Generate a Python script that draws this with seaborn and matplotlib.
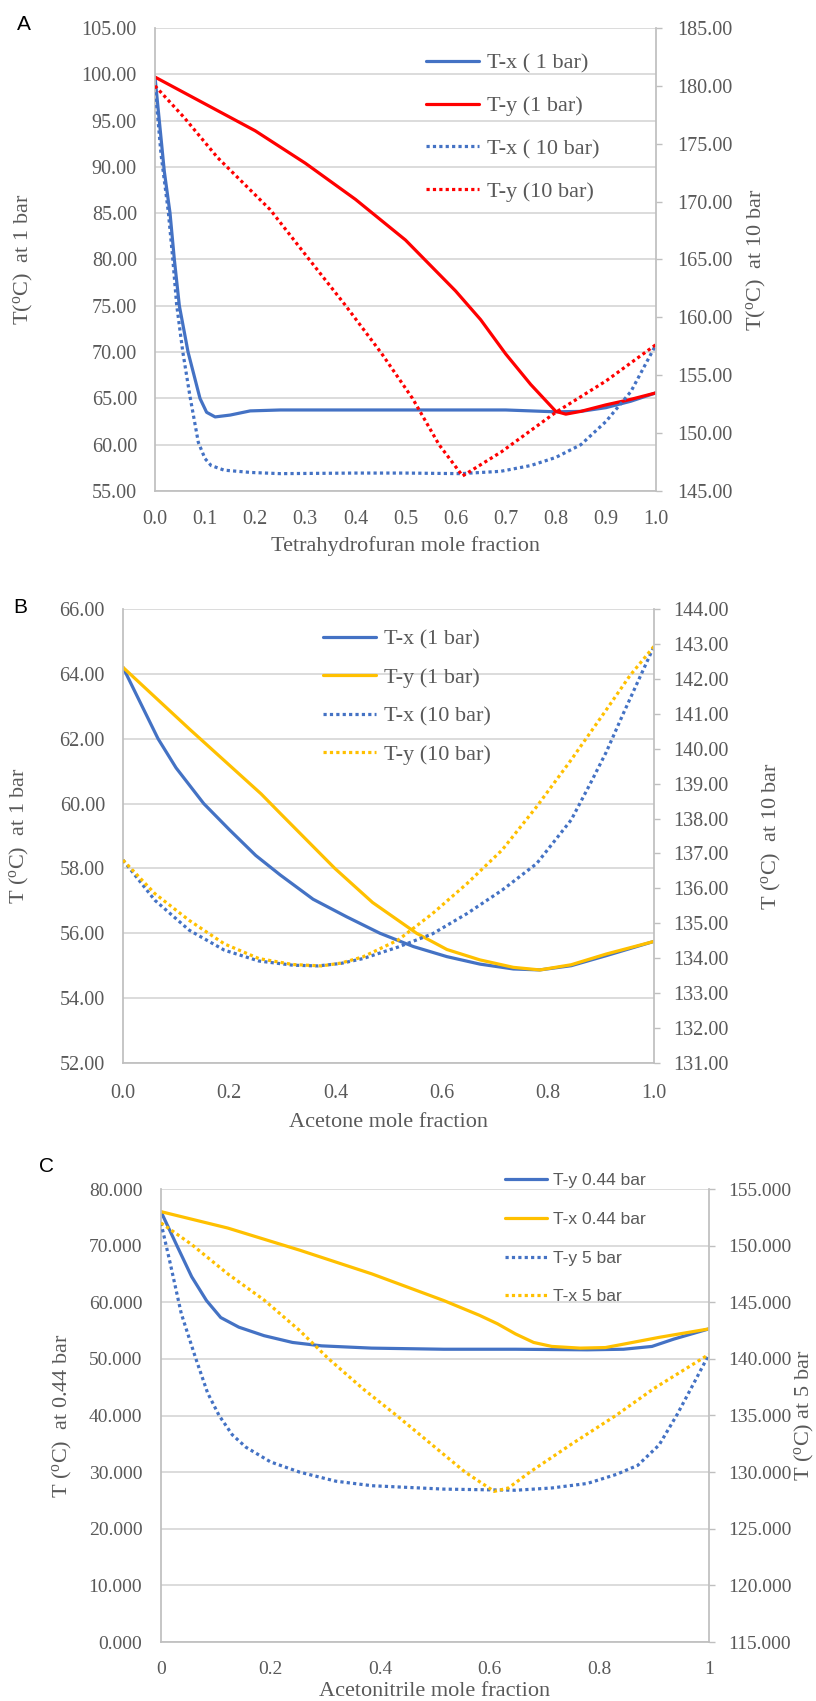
"""
Courbes d'equilibre T-x-y pour trois binaires (THF, acetone, acetonitrile).
"""

import numpy as np
import pandas as pd
import seaborn as sns
import matplotlib.pyplot as plt
from matplotlib.ticker import FormatStrFormatter, MultipleLocator

BLUE = "#4472C4"
RED = "#FF0000"
GOLD = "#FFC000"
GREY_TXT = "#595959"
GRID = "#D9D9D9"
DOT = (0, (1, 1))

# ---- A : tetrahydrofuran ----
a_tx1_x = [0.0, 0.0186, 0.03, 0.0386, 0.0486, 0.066, 0.0898, 0.103, 0.12, 0.15, 0.19, 0.25, 0.4, 0.55, 0.7, 0.75, 0.8, 0.85, 0.9, 0.95, 1.0]
a_tx1_y = [99.7, 89.5, 85.0, 80.0, 75.0, 70.0, 65.0, 63.5, 63.0, 63.2, 63.65, 63.75, 63.75, 63.75, 63.75, 63.65, 63.55, 63.6, 64.0, 64.7, 65.6]
a_ty1_x = [0.0, 0.1, 0.2, 0.3, 0.4, 0.5, 0.6, 0.65, 0.7, 0.75, 0.8, 0.82, 0.85, 0.9, 0.95, 1.0]
a_ty1_y = [99.7, 96.8, 93.9, 90.4, 86.5, 82.1, 76.6, 73.5, 69.8, 66.5, 63.6, 63.3, 63.6, 64.3, 64.9, 65.6]
a_tx10_x = [0.0, 0.012, 0.0266, 0.0352, 0.0432, 0.0552, 0.0699, 0.0865, 0.0998, 0.112, 0.138, 0.192, 0.25, 0.4, 0.5, 0.61, 0.69, 0.75, 0.8, 0.85, 0.9, 0.95, 1.0]
a_tx10_y = [180.0, 174.1, 169.1, 165.2, 161.1, 157.1, 153.15, 149.2, 147.8, 147.2, 146.8, 146.6, 146.5, 146.55, 146.55, 146.5, 146.7, 147.2, 147.9, 149.0, 151.0, 153.6, 157.65]
a_ty10_x = [0.0, 0.0585, 0.125, 0.23, 0.306, 0.379, 0.452, 0.514, 0.567, 0.614, 0.692, 0.8, 0.9, 1.0]
a_ty10_y = [180.0, 177.25, 173.8, 169.3, 165.1, 161.1, 156.9, 153.0, 149.0, 146.3, 148.4, 151.8, 154.5, 157.65]

# ---- B : acetone ----
b_tx1_x = [0.0, 0.027, 0.066, 0.1, 0.152, 0.2, 0.25, 0.296, 0.358, 0.421, 0.484, 0.547, 0.61, 0.672, 0.735, 0.785, 0.844, 0.91, 1.0]
b_tx1_y = [64.2, 63.3, 62.0, 61.1, 60.0, 59.2, 58.4, 57.8, 57.05, 56.51, 56.0, 55.59, 55.28, 55.05, 54.9, 54.87, 55.0, 55.31, 55.75]
b_ty1_x = [0.0, 0.125, 0.26, 0.296, 0.399, 0.47, 0.553, 0.61, 0.672, 0.735, 0.785, 0.844, 0.91, 1.0]
b_ty1_y = [64.2, 62.3, 60.3, 59.7, 58.0, 56.95, 56.0, 55.5, 55.18, 54.95, 54.87, 55.03, 55.36, 55.75]
b_tx10_x = [0.0, 0.06, 0.125, 0.191, 0.256, 0.32, 0.367, 0.41, 0.452, 0.518, 0.583, 0.648, 0.714, 0.779, 0.844, 0.88, 0.91, 0.942, 0.975, 1.0]
b_tx10_y = [136.81, 135.66, 134.8, 134.23, 133.92, 133.8, 133.78, 133.85, 133.99, 134.32, 134.7, 135.28, 135.95, 136.71, 137.96, 139.0, 139.9, 141.0, 142.1, 142.93]
b_ty10_x = [0.0, 0.06, 0.125, 0.191, 0.256, 0.32, 0.374, 0.41, 0.452, 0.518, 0.583, 0.648, 0.714, 0.779, 0.844, 0.91, 0.955, 1.0]
b_ty10_y = [136.81, 135.85, 135.08, 134.41, 133.99, 133.82, 133.78, 133.86, 134.04, 134.52, 135.28, 136.14, 137.1, 138.34, 139.68, 141.11, 142.1, 142.93]

# ---- C : acetonitrile ----
c_ty044_x = [0.0, 0.03, 0.056, 0.083, 0.109, 0.142, 0.188, 0.24, 0.293, 0.384, 0.516, 0.647, 0.778, 0.844, 0.896, 0.936, 1.0]
c_ty044_y = [76.0, 69.8, 64.5, 60.3, 57.3, 55.6, 54.1, 52.9, 52.3, 51.9, 51.7, 51.7, 51.6, 51.7, 52.2, 53.5, 55.3]
c_tx044_x = [0.0, 0.122, 0.253, 0.385, 0.516, 0.581, 0.614, 0.647, 0.68, 0.713, 0.765, 0.811, 0.844, 0.909, 1.0]
c_tx044_y = [76.0, 73.1, 69.2, 65.0, 60.3, 57.7, 56.2, 54.4, 52.9, 52.2, 51.9, 52.0, 52.6, 53.8, 55.3]
c_ty5_x = [0.0, 0.017, 0.037, 0.063, 0.085, 0.106, 0.13, 0.155, 0.2, 0.253, 0.319, 0.385, 0.516, 0.647, 0.713, 0.778, 0.831, 0.87, 0.909, 0.942, 0.975, 1.0]
c_ty5_y = [152.0, 148.4, 144.0, 140.1, 137.0, 135.0, 133.3, 132.2, 130.9, 130.0, 129.2, 128.8, 128.5, 128.4, 128.6, 129.0, 129.8, 130.6, 132.4, 135.1, 138.1, 140.4]
c_tx5_x = [0.0, 0.056, 0.122, 0.188, 0.253, 0.306, 0.37, 0.43, 0.5, 0.555, 0.608, 0.634, 0.673, 0.75, 0.83, 0.9, 1.0]
c_tx5_y = [152.0, 150.1, 147.5, 145.2, 142.5, 140.0, 137.3, 135.0, 132.2, 130.0, 128.3, 128.6, 130.0, 132.5, 135.0, 137.4, 140.4]


def draw_panel(fig, rect, letter, letter_xy, series, ylim_l, ylim_r, ystep_l, ystep_r,
               yfmt, xstep, xfmt, xlabel, ylabel_l, ylabel_r, fs, leg, label_pos):
    """un graphe a deux axes y"""
    ax = fig.add_axes(rect)
    ax2 = ax.twinx()

    for xs, ys, side, color, ls, name in series:
        target = ax if side == "l" else ax2
        df = pd.DataFrame({"x": xs, "y": ys})
        sns.lineplot(data=df, x="x", y="y", ax=target, color=color, lw=2.3,
                     linestyle=ls, label=name, sort=False, estimator=None)

    ax.set_xlim(0, 1)
    ax.set_ylim(*ylim_l)
    ax2.set_ylim(*ylim_r)
    ax.xaxis.set_major_locator(MultipleLocator(xstep))
    ax.yaxis.set_major_locator(MultipleLocator(ystep_l))
    ax2.yaxis.set_major_locator(MultipleLocator(ystep_r))
    if xfmt:
        ax.xaxis.set_major_formatter(FormatStrFormatter(xfmt))
    else:
        ax.xaxis.set_major_formatter(plt.FuncFormatter(lambda v, p: f"{v:g}"))
    ax.yaxis.set_major_formatter(FormatStrFormatter(yfmt))
    ax2.yaxis.set_major_formatter(FormatStrFormatter(yfmt))

    ax.grid(axis="y", color=GRID, lw=1.3)
    ax.grid(axis="x", visible=False)
    ax2.grid(False)
    for a in (ax, ax2):
        for s in a.spines.values():
            s.set_visible(False)
    ax.spines["left"].set_visible(True)
    ax.spines["left"].set_color("#BFBFBF")
    ax.spines["bottom"].set_visible(True)
    ax.spines["bottom"].set_color("#BFBFBF")
    ax2.spines["right"].set_visible(True)
    ax2.spines["right"].set_color("#BFBFBF")

    ax.tick_params(axis="x", length=0, pad=label_pos["xpad"], labelsize=fs, labelcolor=GREY_TXT)
    ax.tick_params(axis="y", length=0, pad=label_pos["lpad"], labelsize=fs, labelcolor=GREY_TXT)
    ax2.tick_params(axis="y", length=4, width=1, color="#BFBFBF", pad=label_pos["rpad"],
                    labelsize=fs, labelcolor=GREY_TXT)

    ax.set_xlabel(xlabel, fontsize=16, color=GREY_TXT)
    ax.set_ylabel(ylabel_l, fontsize=16, color=GREY_TXT)
    ax2.set_ylabel(ylabel_r, fontsize=16, color=GREY_TXT)
    ax.xaxis.set_label_coords(0.5, label_pos["xl"])
    ax.yaxis.set_label_coords(label_pos["yl"], 0.5)
    ax2.yaxis.set_label_coords(label_pos["yr"], 0.5)

    h1, l1 = ax.get_legend_handles_labels()
    h2, l2 = ax2.get_legend_handles_labels()
    if ax.get_legend():
        ax.get_legend().remove()
    if ax2.get_legend():
        ax2.get_legend().remove()
    handles = dict(zip(l1 + l2, h1 + h2))
    names = [s[5] for s in series]
    ax2.legend([handles[n] for n in names], names, loc="upper left",
               bbox_to_anchor=leg["anchor"], frameon=False, borderaxespad=0,
               handlelength=2.4, handletextpad=0.35, labelspacing=leg["spacing"],
               prop=leg["prop"], labelcolor=GREY_TXT)

    fig.text(letter_xy[0], letter_xy[1], letter, fontsize=15, family="Liberation Sans",
             ha="center", va="center", color="black")
    return ax, ax2


def main():
    sns.set_theme(style="white")
    plt.rcParams["font.family"] = ["Liberation Serif", "DejaVu Sans"]
    plt.rcParams["mathtext.fontset"] = "custom"
    plt.rcParams["mathtext.rm"] = "Liberation Serif"
    plt.rcParams["mathtext.it"] = "Liberation Serif:italic"

    W, H = 816, 1701
    fig = plt.figure(figsize=(W / 100, H / 100), dpi=100)
    fig.patch.set_facecolor("white")

    def rect(l, r, t, b):
        return [l / W, 1 - b / H, (r - l) / W, (b - t) / H]

    serif16 = {"family": "Liberation Serif", "size": 16}

    # A
    series_a = [
        (a_tx1_x, a_tx1_y, "l", BLUE, "-", "T-x ( 1 bar)"),
        (a_ty1_x, a_ty1_y, "l", RED, "-", "T-y (1 bar)"),
        (a_tx10_x, a_tx10_y, "r", BLUE, DOT, "T-x ( 10 bar)"),
        (a_ty10_x, a_ty10_y, "r", RED, DOT, "T-y (10 bar)"),
    ]
    draw_panel(fig, rect(155, 656, 28, 491), "A", (24 / W, 1 - 25 / H), series_a,
               (55, 105), (145, 185), 5, 5, "%.2f", 0.1, "%.1f",
               "Tetrahydrofuran mole fraction",
               r"T($^{\mathrm{o}}$C)  at 1 bar", r"T($^{\mathrm{o}}$C)  at 10 bar", 14.5,
               {"anchor": (0.523, 0.965), "spacing": 1.0, "prop": serif16},
               {"xpad": 14, "lpad": 13, "rpad": 11, "xl": -0.097, "yl": -0.24, "yr": 1.178})

    # B
    series_b = [
        (b_tx1_x, b_tx1_y, "l", BLUE, "-", "T-x (1 bar)"),
        (b_ty1_x, b_ty1_y, "l", GOLD, "-", "T-y (1 bar)"),
        (b_tx10_x, b_tx10_y, "r", BLUE, DOT, "T-x (10 bar)"),
        (b_ty10_x, b_ty10_y, "r", GOLD, DOT, "T-y (10 bar)"),
    ]
    draw_panel(fig, rect(123, 654, 609, 1063), "B", (20 / W, 1 - 607 / H), series_b,
               (52, 66), (131, 144), 2, 1, "%.2f", 0.2, "%.1f",
               "Acetone mole fraction",
               r"T ($^{\mathrm{o}}$C)  at 1 bar", r"T ($^{\mathrm{o}}$C)  at 10 bar", 14.5,
               {"anchor": (0.36, 0.975), "spacing": 0.8, "prop": serif16},
               {"xpad": 15, "lpad": 13, "rpad": 9.5, "xl": -0.11, "yl": -0.173, "yr": 1.2})

    # C
    series_c = [
        (c_ty044_x, c_ty044_y, "l", BLUE, "-", "T-y 0.44 bar"),
        (c_tx044_x, c_tx044_y, "l", GOLD, "-", "T-x 0.44 bar"),
        (c_ty5_x, c_ty5_y, "r", BLUE, DOT, "T-y 5 bar"),
        (c_tx5_x, c_tx5_y, "r", GOLD, DOT, "T-x 5 bar"),
    ]
    draw_panel(fig, rect(161, 709, 1189, 1642), "C", (47 / W, 1 - 1166 / H), series_c,
               (0, 80), (115, 155), 10, 5, "%.3f", 0.2, None,
               "Acetonitrile mole fraction",
               r"T ($^{\mathrm{o}}$C)  at 0.44 bar", r"T ($^{\mathrm{o}}$C) at 5 bar", 14,
               {"anchor": (0.615, 1.05), "spacing": 1.35,
                "prop": {"family": "Liberation Sans", "size": 12.5}},
               {"xpad": 14, "lpad": 13.5, "rpad": 9.5, "xl": -0.088, "yl": -0.159, "yr": 1.153})

    fig.savefig("out.png", dpi=100, facecolor="white")


if __name__ == "__main__":
    main()
